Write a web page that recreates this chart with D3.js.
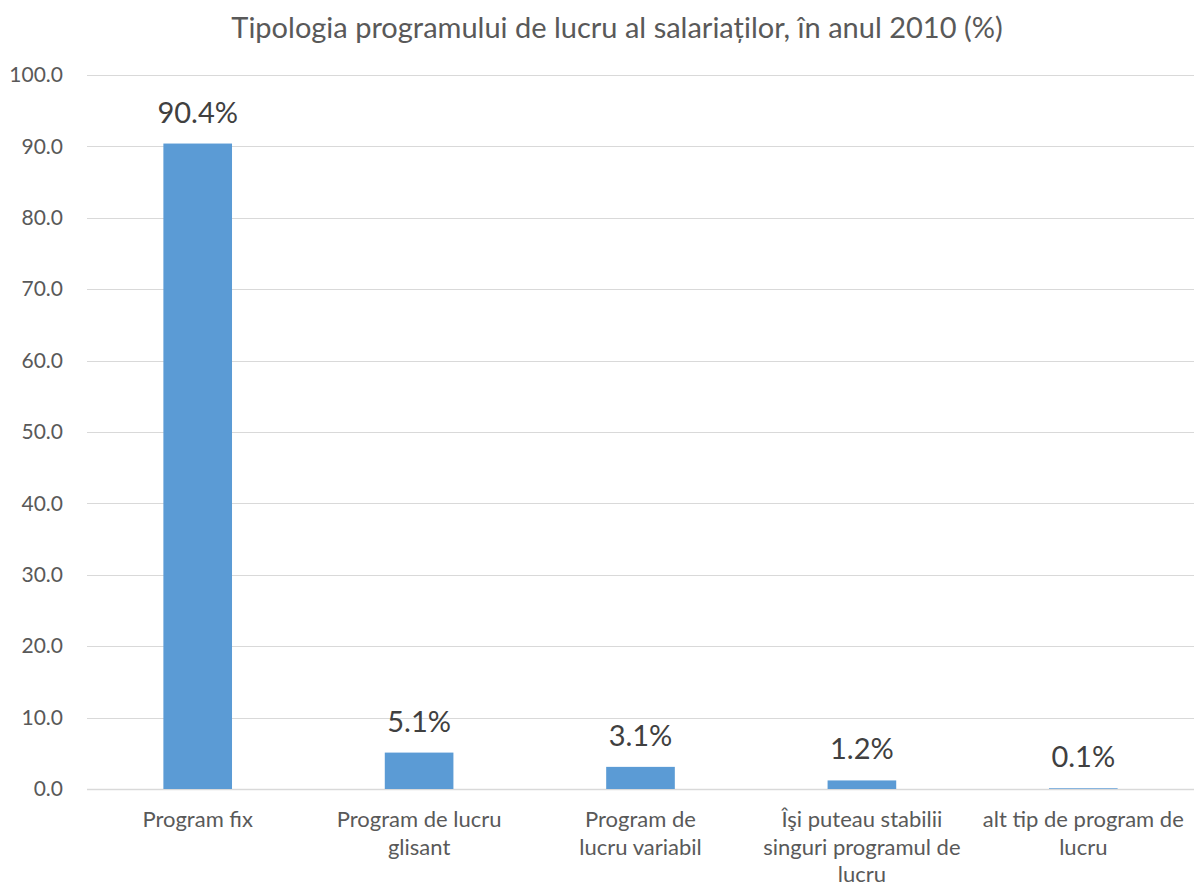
<!DOCTYPE html>
<html lang="ro">
    <head>
        <meta charset="utf-8">
        <title>Tipologia programului de lucru</title>
        <script type="text/javascript" src="https://d3js.org/d3.v7.min.js"></script>
        <style type="text/css">
            body { margin: 0; background: #fff; }
            text { font-family: Lato, "Open Sans", sans-serif; }
        </style>
    </head>
    <body>
        <div id="chart"></div>
        <script type="text/javascript">

            // data
            var categories = ["Program fix", "Program de lucru\nglisant", "Program de\nlucru variabil",
                              "Îşi puteau stabilii\nsinguri programul de\nlucru", "alt tip de program de\nlucru"];
            var values = [90.4, 5.1, 3.1, 1.2, 0.1];
            var yTicks = [0, 10, 20, 30, 40, 50, 60, 70, 80, 90, 100];
            var title = "Tipologia programului de lucru al salariaților, în anul 2010 (%)";

            var W = 1194, H = 886;
            var margin = {top: 75, right: 0, bottom: 97, left: 87},
                width = W - margin.left - margin.right,
                height = H - margin.top - margin.bottom;

            var svg = d3.select("#chart")
                .append("svg")
                    .attr("width", W)
                    .attr("height", H);

            svg.append("text")
                .attr("x", 617)
                .attr("y", 38)
                .attr("text-anchor", "middle")
                .attr("font-size", 29)
                .attr("fill", "#595959")
                .text(title);

            var g = svg.append("g")
                .attr("transform", "translate(" + margin.left + "," + margin.top + ")");

            var x = d3.scaleBand()
                .domain(categories)
                .range([0, width])
                .paddingInner(0.69)
                .paddingOuter(0.345);

            var y = d3.scaleLinear()
                .domain([0, 100])
                .range([height, 0]);

            // gridlines
            g.append("g")
                .selectAll("line")
                .data(yTicks)
                .enter().append("line")
                    .attr("x1", 0)
                    .attr("x2", width)
                    .attr("y1", d => Math.round(y(d)) + 0.5)
                    .attr("y2", d => Math.round(y(d)) + 0.5)
                    .attr("stroke", "#d9d9d9")
                    .attr("stroke-width", d => d === 0 ? 1.5 : 1);

            // y axis labels
            var yAxis = g.append("g")
                .call(d3.axisLeft(y).tickValues(yTicks).tickFormat(d3.format(".1f")).tickSize(0).tickPadding(24));
            yAxis.select(".domain").remove();
            yAxis.selectAll("text")
                .attr("font-size", 21)
                .attr("fill", "#595959")
                .attr("font-family", "Lato, sans-serif");

            // bars
            g.selectAll(".bar")
                .data(values)
                .enter().append("rect")
                    .attr("class", "bar")
                    .attr("x", (d, i) => x(categories[i]))
                    .attr("width", x.bandwidth())
                    .attr("y", d => y(d))
                    .attr("height", d => height - y(d))
                    .attr("fill", "#5b9bd5");

            // data labels
            g.selectAll(".lbl")
                .data(values)
                .enter().append("text")
                    .attr("class", "lbl")
                    .attr("x", (d, i) => x(categories[i]) + x.bandwidth() / 2)
                    .attr("y", d => y(d) - 21)
                    .attr("text-anchor", "middle")
                    .attr("font-size", 29)
                    .attr("fill", "#404040")
                    .text(d => d.toFixed(1) + "%");

            // category labels
            var cats = g.append("g")
                .attr("transform", "translate(0," + height + ")");
            categories.forEach(function(c) {
                var t = cats.append("text")
                    .attr("x", x(c) + x.bandwidth() / 2)
                    .attr("y", 38)
                    .attr("text-anchor", "middle")
                    .attr("font-size", 22)
                    .attr("fill", "#595959");
                c.split("\n").forEach(function(line, k) {
                    t.append("tspan")
                        .attr("x", x(c) + x.bandwidth() / 2)
                        .attr("dy", k === 0 ? 0 : 27.5)
                        .text(line);
                });
            });
        </script>
    </body>
</html>
